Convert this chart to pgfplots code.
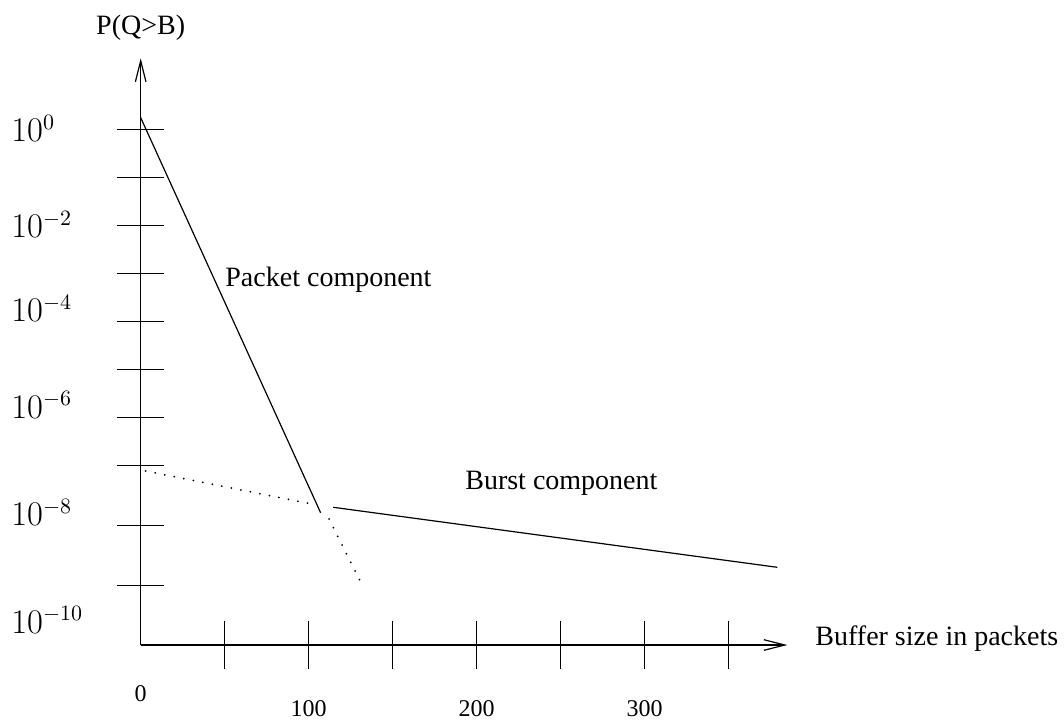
\documentclass[border=0pt]{standalone}
\usepackage{fontspec}
\setmainfont{Liberation Serif}
\usepackage{pgfplots}
\pgfplotsset{compat=1.18}
\usetikzlibrary{arrows.meta}
\begin{document}
\begin{tikzpicture}
\begin{axis}[
  x=0.84pt, y=24pt,
  xmin=0, xmax=384.9, ymin=-10.744, ymax=1.479,
  axis lines=left,
  axis line style={black, line width=0.75pt, -{Straight Barb[length=10.5pt,width=5.3pt,line width=0.6pt]}},
  xtick={50,100,...,350},
  ytick={0,-1,-2,-3,-4,-5,-6,-7,-8.25,-9.5},
  xticklabels={}, yticklabels={},
  tick align=center,
  major tick length=23.8pt,
  tick style={black, line width=0.55pt},
  clip=false,
]
% Packet component (solid) and its dotted continuation
\addplot[black, line width=0.6pt] coordinates {(0,0.242) (107.1,-7.988)};
\addplot[black, line width=1pt, line cap=round, dash pattern=on 0pt off 4.85pt] coordinates {(112.1,-8.119) (132.5,-9.542)};
% Burst component: dotted extension and solid part
\addplot[black, line width=1pt, line cap=round, dash pattern=on 0pt off 4.85pt] coordinates {(3.0,-7.119) (104.8,-7.827)};
\addplot[black, line width=0.6pt] coordinates {(114.6,-7.875) (378.9,-9.125)};

% y tick labels
\begin{scope}[every node/.style={inner sep=0pt, anchor=base west, font=\fontsize{16}{18}\selectfont}]
\node at (axis cs:-77.2,-0.2625) {$10^{0}$};
\node at (axis cs:-77.2,-2.2625) {$10^{-2}$};
\node at (axis cs:-77.2,-4.0125) {$10^{-4}$};
\node at (axis cs:-77.2,-6.023) {$10^{-6}$};
\node at (axis cs:-77.2,-8.2625) {$10^{-8}$};
\node at (axis cs:-77.2,-10.502) {$10^{-10}$};
\end{scope}
% x tick labels
\begin{scope}[every node/.style={inner sep=0pt, anchor=base, font=\fontsize{12}{14}\selectfont}]
\node at (axis cs:0,-11.931) {0};
\node at (axis cs:100,-12.24) {100};
\node at (axis cs:200,-12.24) {200};
\node at (axis cs:300,-12.24) {300};
\end{scope}
% texts
\begin{scope}[every node/.style={inner sep=0pt, font=\fontsize{14}{16}\selectfont}]
\node[anchor=base] at (axis cs:0,1.985) {P(Q>B)};
\node[anchor=base west] at (axis cs:50.2,-3.265) {Packet component};
\node[anchor=base west] at (axis cs:193.0,-7.494) {Burst component};
\node[anchor=base west] at (axis cs:401.4,-10.744) {Buffer size in packets};
\end{scope}
\coordinate (bl) at (axis cs:-83.75,-12.306);
\coordinate (tr) at (axis cs:549.6,2.694);
\end{axis}
\pgfresetboundingbox
\path[use as bounding box] (bl) rectangle (tr);
\end{tikzpicture}
\end{document}
